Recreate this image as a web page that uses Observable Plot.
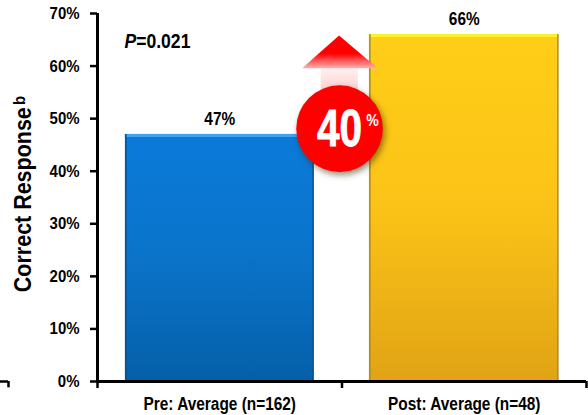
<!DOCTYPE html>
<html>
<head>
<meta charset="utf-8">
<script src="https://cdn.jsdelivr.net/npm/d3@7"></script>
<script src="https://cdn.jsdelivr.net/npm/@observablehq/plot@0.6"></script>
<style>
  html, body { margin: 0; padding: 0; background: #fff; }
  svg { display: block; }
</style>
</head>
<body>
<div id="chart"></div>
<script>
// Response rates before and after the intervention
const categories = ["Pre: Average (n=162)", "Post: Average (n=48)"];
const values = [47, 66];
const barStart = [0.114, 1.112];
const barEnd = [0.884, 1.885];
const labelCenter = [0.5, 1.5];
const yTicks = [0, 10, 20, 30, 40, 50, 60, 70];
const xTicks = [0, 1, 2];
const fills = ["url(#barBlue)", "url(#barGold)"];
const topEdges = ["#3fa2ee", "#fff02c"];
const sideEdges = ["#05528f", "#a98a28"];
const pValue = "P=0.021";

// Increase callout, in axis units
const arrowHeadX = [0.839, 0.99, 1.148];
const arrowHeadBase = [59.5, 59.5, 59.5];
const arrowHeadTop = [59.5, 65.7, 59.5];
const arrowShaftX = [0.915, 1.067];
const arrowShaftY = [46, 59.5];
const badge = { x: 0.99, y: 48.1, label: "40", unit: "%" };

const bars = categories.map((name, i) => ({
  name, value: values[i], x1: barStart[i], x2: barEnd[i], cx: labelCenter[i],
  fill: fills[i], topEdge: topEdges[i], sideEdge: sideEdges[i]
}));

// Gradient definitions used by the bars and the arrow
function gradient(defs, id, stops) {
  const g = defs.append("linearGradient").attr("id", id)
    .attr("x1", 0).attr("y1", 0).attr("x2", 0).attr("y2", 1);
  stops.forEach(([offset, color]) =>
    g.append("stop").attr("offset", offset).attr("stop-color", color));
}
const gradientDefs = () => {
  const defs = d3.create("svg:defs");
  gradient(defs, "barBlue", [[0, "#0a7ada"], [0.5, "#0a74ca"], [1, "#055fa8"]]);
  gradient(defs, "barGold", [[0, "#ffce18"], [0.5, "#fbc317"], [1, "#e1a315"]]);
  gradient(defs, "arrowHead", [[0, "#ff0000"], [0.55, "#ff0000"], [1, "#ffb0b0"]]);
  gradient(defs, "arrowShaft", [[0, "#fff0f0"], [1, "#ff8f8f"]]);
  return defs.node();
};

const plot = Plot.plot({
  width: 588,
  height: 415,
  marginLeft: 97,
  marginRight: 2,
  marginTop: 13,
  marginBottom: 34,
  style: { fontFamily: "'Liberation Sans', Arial, sans-serif", fontWeight: "bold", background: "#fff", color: "#000" },
  x: { type: "linear", domain: [0, 2], axis: null },
  y: { type: "linear", domain: [0, 70], axis: null },
  marks: [
    gradientDefs,
    Plot.rect(bars, { x1: "x1", x2: "x2", y1: 0, y2: "value", fill: "fill" }),
    Plot.ruleY(bars, { x1: "x1", x2: "x2", y: "value", dy: 1, stroke: "topEdge", strokeWidth: 3 }),
    Plot.ruleX(bars, { x: "x1", y1: 0, y2: "value", dx: 0.5, stroke: "sideEdge", strokeWidth: 1.5 }),
    Plot.ruleX(bars, { x: "x2", y1: 0, y2: "value", dx: -0.5, stroke: "sideEdge", strokeWidth: 1.5 }),

    Plot.axisY({ ticks: yTicks, tickSize: 7, tickPadding: 11, strokeWidth: 2.5, fontSize: 17, tickFormat: d => d + "%", label: null }),
    Plot.axisX({ ticks: xTicks, tickSize: 7, strokeWidth: 2.5, tickFormat: () => "", label: null }),
    Plot.ruleX([0], { y1: 0, y2: 70, strokeWidth: 3 }),
    Plot.ruleY([0], { x1: 0, x2: 2, strokeWidth: 3 }),

    // Fragment of axis at the lower left edge
    Plot.ruleY([0], { x1: -0.397, x2: -0.364, strokeWidth: 2.5 }),
    Plot.ruleX([-0.364], { y1: 0, y2: -1.2, strokeWidth: 2.5 }),

    Plot.text(bars, { x: "cx", y: 0, text: "name", dy: 23, fontSize: 17.5 }),
    Plot.text(bars, { x: "cx", y: "value", text: d => d.value + "%", dy: -15, fontSize: 17.5 }),

    // Axis title with its superscript
    Plot.text(["Correct Response"], { x: -0.302, y: 17, text: d => d, rotate: -90, textAnchor: "start", fontSize: 24.4 }),
    Plot.text(["b"], { x: -0.318, y: 52.6, text: d => d, rotate: -90, textAnchor: "start", fontSize: 17 }),

    Plot.text([pValue], { x: 0.11, y: 64.7, text: d => d, textAnchor: "start", fontSize: 20 }),

    Plot.rect([0], { x1: arrowShaftX[0], x2: arrowShaftX[1], y1: arrowShaftY[0], y2: arrowShaftY[1], fill: "url(#arrowShaft)" }),
    Plot.area(arrowHeadX.map((x, i) => ({ x, y1: arrowHeadBase[i], y2: arrowHeadTop[i] })), {
      x1: "x", y1: "y1", y2: "y2", fill: "url(#arrowHead)"
    }),
    Plot.dot([badge], { x: "x", y: "y", r: 43.3, fill: "#ff0000", imageFilter: "drop-shadow(2px 3px 3px rgba(60,40,0,0.55))" }),
    Plot.text([badge], { x: "x", y: "y", text: "label", fontSize: 52, fill: "#fff", stroke: "#fff", strokeWidth: 0.8, dy: 1 }),
    Plot.text([badge], { x: "x", y: "y", text: "unit", fontSize: 16, fill: "#fff", dx: 33, dy: -8 })
  ]
});

document.getElementById("chart").append(plot);

const narrow = (t, factor) =>
  t.setAttribute("transform", `${t.getAttribute("transform") || ""} scale(${factor},1)`);

plot.querySelectorAll("text").forEach(t => {
  // The letter P of the significance note is set in italic
  if (t.textContent === pValue) {
    t.textContent = "";
    const p = document.createElementNS("http://www.w3.org/2000/svg", "tspan");
    p.setAttribute("font-style", "italic");
    p.textContent = pValue[0];
    t.append(p, pValue.slice(1));
    narrow(t, 0.88);
    return;
  }
  // The badge figure is narrowed with a scale, the rest with a fitted length
  if (parseFloat(getComputedStyle(t).fontSize) > 40) {
    narrow(t, 0.78);
    return;
  }
  const length = t.getComputedTextLength();
  if (length > 0) {
    t.setAttribute("textLength", length * 0.88);
    t.setAttribute("lengthAdjust", "spacingAndGlyphs");
  }
});
</script>
</body>
</html>
